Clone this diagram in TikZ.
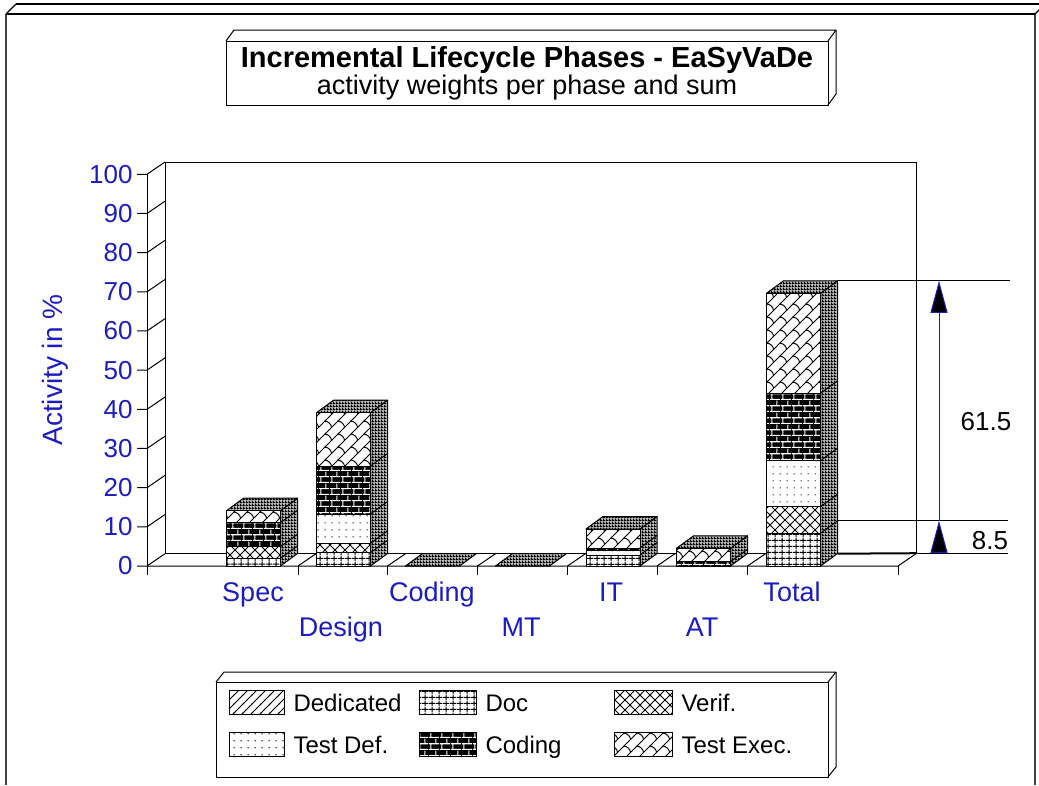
\documentclass[tikz,border=0pt]{standalone}
\usepackage{fontspec}
\setmainfont{Liberation Sans}
\usetikzlibrary{patterns,arrows.meta}

% ---- fill patterns (1pt = one picture unit) ----
\pgfdeclarepatternformonly{docgrid}{\pgfpointorigin}{\pgfpoint{6.6pt}{5.6pt}}{\pgfpoint{6.6pt}{5.6pt}}{%
  \pgfsetlinewidth{1pt}%
  \pgfpathmoveto{\pgfpoint{3.3pt}{0pt}}\pgfpathlineto{\pgfpoint{3.3pt}{5.6pt}}%
  \pgfpathmoveto{\pgfpoint{0pt}{2.8pt}}\pgfpathlineto{\pgfpoint{6.6pt}{2.8pt}}%
  \pgfusepath{stroke}}
\pgfdeclarepatternformonly{verifx}{\pgfpoint{-1pt}{-1pt}}{\pgfpoint{11pt}{11pt}}{\pgfpoint{10pt}{10pt}}{%
  \pgfsetlinewidth{1pt}%
  \pgfpathmoveto{\pgfpoint{-1pt}{-1pt}}\pgfpathlineto{\pgfpoint{11pt}{11pt}}%
  \pgfpathmoveto{\pgfpoint{-1pt}{11pt}}\pgfpathlineto{\pgfpoint{11pt}{-1pt}}%
  \pgfusepath{stroke}}
\pgfdeclarepatternformonly{testdots}{\pgfpointorigin}{\pgfpoint{7pt}{7pt}}{\pgfpoint{7pt}{7pt}}{%
  \pgfpathcircle{\pgfpoint{3.5pt}{3.5pt}}{0.8pt}\pgfusepath{fill}}
\pgfdeclarepatternformonly{mortar}{\pgfpointorigin}{\pgfpoint{11pt}{11.6pt}}{\pgfpoint{11pt}{11.6pt}}{%
  \pgfsetlinewidth{1.1pt}%
  \pgfpathmoveto{\pgfpoint{0pt}{0.6pt}}\pgfpathlineto{\pgfpoint{11pt}{0.6pt}}%
  \pgfpathmoveto{\pgfpoint{0pt}{6.4pt}}\pgfpathlineto{\pgfpoint{11pt}{6.4pt}}%
  \pgfpathmoveto{\pgfpoint{2pt}{0.6pt}}\pgfpathlineto{\pgfpoint{2pt}{6.4pt}}%
  \pgfpathmoveto{\pgfpoint{7.5pt}{6.4pt}}\pgfpathlineto{\pgfpoint{7.5pt}{11.6pt}}%
  \pgfusepath{stroke}}
\pgfdeclarepatternformonly{scales}{\pgfpoint{-1pt}{-1pt}}{\pgfpoint{14pt}{14pt}}{\pgfpoint{13pt}{13pt}}{%
  \pgfsetlinewidth{1pt}%
  \pgfpathmoveto{\pgfpoint{-1pt}{-1pt}}\pgfpathlineto{\pgfpoint{14pt}{14pt}}%
  \pgfpathmoveto{\pgfpoint{6.5pt}{6.5pt}}%
  \pgfpathcurveto{\pgfpoint{6.5pt}{9.5pt}}{\pgfpoint{3.5pt}{12.5pt}}{\pgfpoint{0pt}{13pt}}%
  \pgfusepath{stroke}}
\pgfdeclarepatternformonly{dedlines}{\pgfpoint{-1pt}{-1pt}}{\pgfpoint{10pt}{10pt}}{\pgfpoint{9pt}{9pt}}{%
  \pgfsetlinewidth{0.9pt}%
  \pgfpathmoveto{\pgfpoint{-1pt}{-1pt}}\pgfpathlineto{\pgfpoint{10pt}{10pt}}%
  \pgfusepath{stroke}}
\pgfdeclarepatternformonly{mesh}{\pgfpointorigin}{\pgfpoint{3pt}{3pt}}{\pgfpoint{3pt}{3pt}}{%
  \pgfpathrectangle{\pgfpointorigin}{\pgfpoint{3pt}{1.3pt}}%
  \pgfpathrectangle{\pgfpointorigin}{\pgfpoint{1.3pt}{3pt}}%
  \pgfusepath{fill}}

\definecolor{axisblue}{RGB}{28,28,192}

% one stacked segment: x-left, y-bottom, y-top, style
\newcommand\BarSeg[4]{\draw[#4] (#1,#2) rectangle ({#1+54},#3);}
% side and top faces of a bar: x-left, y-top
\newcommand\BarFaces[2]{%
  \draw[face] ({#1+54},566) -- ++(17,-12.5) -- ({#1+71},{#2-12.5}) -- ({#1+54},#2) -- cycle;
  \draw[face] (#1,#2) -- ({#1+54},#2) -- ({#1+71},{#2-12.5}) -- ({#1+17},{#2-12.5}) -- cycle;}
% segment border continued on the side face
\newcommand\SideTick[2]{\draw ({#1+54},#2) -- ++(17,-12.5);}

\begin{document}
\begin{tikzpicture}[x=1pt,y=-1pt,line width=1pt,
  face/.style={preaction={fill=black!28},pattern=mesh,draw=black,line join=round},
  segdoc/.style={preaction={fill=white},pattern=docgrid,draw=black},
  segverif/.style={preaction={fill=white},pattern=verifx,draw=black},
  segtdef/.style={preaction={fill=white},pattern=testdots,draw=black},
  segcode/.style={preaction={fill=black},pattern=mortar,pattern color=white,draw=black},
  segtexec/.style={preaction={fill=white},pattern=scales,draw=black},
  segded/.style={preaction={fill=white},pattern=dedlines,draw=black},
  ticklab/.style={text=axisblue,font=\fontsize{26}{30}\selectfont,inner sep=0pt},
  catlab/.style={text=axisblue,font=\fontsize{27}{32}\selectfont,inner sep=0pt,anchor=base},
  leglab/.style={font=\fontsize{24}{28}\selectfont,inner sep=0pt,anchor=base west},
  dimlab/.style={font=\fontsize{26}{30}\selectfont,inner sep=0pt},
  dimarrow/.style={draw=axisblue,line width=1pt,-{Triangle[length=32pt,width=17pt,fill=black]}}]

\useasboundingbox (0,0) rectangle (1039,785);
\fill[white] (0,0) rectangle (1039,785);

% ---- outer frame ----
\draw[black!75,line width=1.8pt] (6,785) -- (6,14);
\draw[black!75,line width=1.8pt] (1035,14) -- (1035,785);
\draw[line width=1.2pt] (6,14) -- (1035,14);
\draw[line width=1.8pt] (16,4) -- (1039,4);
\draw[line width=1.2pt] (6,14) -- (16,4);
\draw[line width=1.2pt] (1035,14) -- (1039,10);

% ---- title box ----
\draw[fill=white] (226,41) rectangle (828,105);
\draw[line join=round] (226,41) -- (234,30) -- (836,30) -- (828,41);
\draw[line join=round] (836,30) -- (836,94) -- (828,105);
\node[font=\fontsize{29}{33}\selectfont\bfseries,inner sep=0pt,anchor=base] (title) at (527,67) {Incremental Lifecycle Phases - EaSyVaDe};
\node[font=\fontsize{27}{31}\selectfont,inner sep=0pt,anchor=base] (subtitle) at (527,94) {activity weights per phase and sum};

% ---- walls and floor ----
\draw (165,162) -- (916,162) -- (916,553.7);
\draw (165,162) -- (165,553.7) -- (916,553.7);
\draw (147,566) -- (898,566) -- (916,553.7);
\foreach \t in {298,387.5,477.5,567.5,657,747.5}{
  \draw (\t,566) -- (\t,575);
  \draw (\t,566) -- ({\t+18},553.7);
}
\draw (898,566) -- (898,575);
\draw (147,174.3) -- (147,575);
\foreach \v in {0,10,...,100}{
  \pgfmathsetmacro\yy{566-3.917*\v}
  \draw (137,\yy) -- (147,\yy) -- (165,\yy-12.3);
  \node[ticklab,anchor=east] (tick\v) at (133,\yy) {\v};
}
\node[rotate=90,text=axisblue,font=\fontsize{28}{32}\selectfont,inner sep=0pt] (ylabel) at (55,370) {Activity in \%};

% ---- category labels ----
\node[catlab] (cSpec)   at (253,601) {Spec};
\node[catlab] (cDesign) at (341,636) {Design};
\node[catlab] (cCoding) at (432,601) {Coding};
\node[catlab] (cMT)     at (521,636) {MT};
\node[catlab] (cIT)     at (611,601) {IT};
\node[catlab] (cAT)     at (702,636) {AT};
\node[catlab] (cTotal)  at (792,601) {Total};

% ---- Spec ----
\BarFaces{226.5}{510.7}
\BarSeg{226.5}{566}{558.3}{segdoc}
\BarSeg{226.5}{558.3}{546.7}{segverif}
\BarSeg{226.5}{546.7}{522.7}{segcode}
\BarSeg{226.5}{522.7}{510.7}{segtexec}
\SideTick{226.5}{558.3}\SideTick{226.5}{546.7}\SideTick{226.5}{522.7}

% ---- Design ----
\BarFaces{316.5}{412.7}
\BarSeg{316.5}{566}{552.7}{segdoc}
\BarSeg{316.5}{552.7}{543.3}{segverif}
\BarSeg{316.5}{543.3}{514}{segtdef}
\BarSeg{316.5}{514}{466}{segcode}
\BarSeg{316.5}{466}{412.7}{segtexec}
\SideTick{316.5}{552.7}\SideTick{316.5}{543.3}\SideTick{316.5}{514}\SideTick{316.5}{466}

% ---- Coding and MT (empty) ----
\draw[face] (405.5,566) -- (459.5,566) -- (476.5,553.5) -- (422.5,553.5) -- cycle;
\draw[face] (495.5,566) -- (549.5,566) -- (566.5,553.5) -- (512.5,553.5) -- cycle;

% ---- IT ----
\BarFaces{586}{529}
\BarSeg{586}{566}{555}{segdoc}
\BarSeg{586}{555}{550.5}{segtdef}
\BarSeg{586}{550.5}{548}{segcode}
\BarSeg{586}{548}{529}{segtexec}
\SideTick{586}{555}\SideTick{586}{548}

% ---- AT ----
\BarFaces{676.5}{548.3}
\BarSeg{676.5}{566}{561.7}{segcode}
\BarSeg{676.5}{561.7}{548.3}{segtexec}
\SideTick{676.5}{561.7}

% ---- Total ----
\BarFaces{766.5}{293.3}
\BarSeg{766.5}{566}{533.3}{segdoc}
\BarSeg{766.5}{533.3}{506.7}{segverif}
\BarSeg{766.5}{506.7}{460.7}{segtdef}
\BarSeg{766.5}{460.7}{393.3}{segcode}
\BarSeg{766.5}{393.3}{293.3}{segtexec}
\SideTick{766.5}{533.3}\SideTick{766.5}{506.7}\SideTick{766.5}{460.7}\SideTick{766.5}{393.3}

% ---- dimension marks on the sum ----
\coordinate (d70a) at (837.5,280.8);
\coordinate (d70b) at (1010,280.8);
\coordinate (d8a)  at (837.5,520.8);
\coordinate (d8b)  at (1008,520.8);
\coordinate (d0a)  at (837.5,553.7);
\coordinate (d0b)  at (1008,553.7);
\draw (d70a) -- (d70b);
\draw (d8a) -- (d8b);
\draw (d0a) -- (d0b);
\draw[line width=2pt] (d0a) -- (916,553.2);
\coordinate (a70) at (939,280.8);
\coordinate (a8)  at (939,520.8);
\coordinate (a0)  at (939,553.7);
\draw[dimarrow] (a8) -- (a70);
\draw[dimarrow] (a0) -- (a8);
\node[dimlab] (v615) at (986,422) {61.5};
\node[dimlab] (v85)  at (990,541) {8.5};

% ---- legend ----
\draw[fill=white] (216,682) rectangle (828,777);
\draw[line join=round] (216,682) -- (224,672) -- (836,672) -- (828,682);
\draw[line join=round] (836,672) -- (836,767) -- (828,777);
\draw[segded]   (229,690) rectangle (284,714);
\draw[segdoc]   (419,690) rectangle (476,714);
\draw[segverif] (614,690) rectangle (672,714);
\draw[segtdef]  (229,732) rectangle (284,756);
\draw[segcode]  (419,732) rectangle (476,756);
\draw[segtexec] (614,732) rectangle (672,756);
\node[leglab] (lDed)   at (293,711) {Dedicated};
\node[leglab] (lDoc)   at (485,711) {Doc};
\node[leglab] (lVerif) at (681,711) {Verif.};
\node[leglab] (lTDef)  at (293,753) {Test Def.};
\node[leglab] (lCode)  at (485,753) {Coding};
\node[leglab] (lTExec) at (681,753) {Test Exec.};
\end{tikzpicture}
\end{document}
